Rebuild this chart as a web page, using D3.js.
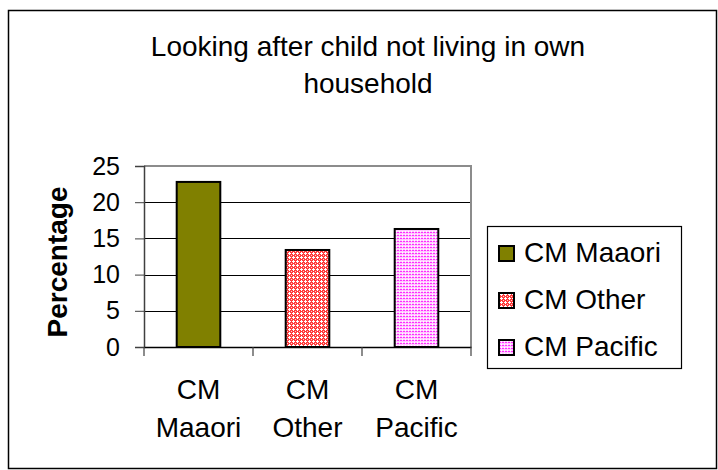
<!DOCTYPE html>
<html>
<head>
<meta charset="utf-8">
<script src="https://cdn.jsdelivr.net/npm/d3@7/dist/d3.min.js"></script>
<style>
  html, body { margin: 0; padding: 0; background: #fff; }
  svg { display: block; font-family: "Liberation Sans", Arial, sans-serif; }
</style>
</head>
<body>
<svg id="chart" width="718" height="470"></svg>
<script>
// Chart data
const categories = ["CM Maaori", "CM Other", "CM Pacific"];
const categoryLines = [["CM", "Maaori"], ["CM", "Other"], ["CM", "Pacific"]];
const percentages = [22.8, 13.4, 16.3];
const yTicks = [0, 5, 10, 15, 20, 25];
const titleLines = ["Looking after child not living in own", "household"];
const yAxisTitle = "Percentage";

const svg = d3.select("#chart");

// Fill patterns
const defs = svg.append("defs");

const checker = defs.append("pattern")
  .attr("id", "fill-other").attr("patternUnits", "userSpaceOnUse")
  .attr("width", 4).attr("height", 4);
checker.append("rect").attr("width", 4).attr("height", 4).attr("fill", "#ff3b3b");
checker.append("rect").attr("x", 1).attr("y", 0).attr("width", 1).attr("height", 3).attr("fill", "#ffffff");
checker.append("rect").attr("x", 0).attr("y", 1).attr("width", 3).attr("height", 1).attr("fill", "#ffffff");
checker.append("rect").attr("x", 3).attr("y", 3).attr("width", 1).attr("height", 1).attr("fill", "#ffd0d0");

const dots = defs.append("pattern")
  .attr("id", "fill-pacific").attr("patternUnits", "userSpaceOnUse")
  .attr("width", 3).attr("height", 3);
dots.append("rect").attr("width", 3).attr("height", 3).attr("fill", "#ffc8ff");
dots.append("rect").attr("x", 1).attr("y", 1).attr("width", 2).attr("height", 1).attr("fill", "#ff2cff");
dots.append("rect").attr("x", 0).attr("y", 0).attr("width", 1).attr("height", 1).attr("fill", "#ffffff");

const fills = ["#808000", "url(#fill-other)", "url(#fill-pacific)"];

// Outer chart frame
svg.append("rect")
  .attr("x", 8.5).attr("y", 10.5).attr("width", 708).attr("height", 458)
  .attr("fill", "#fff").attr("stroke", "#000").attr("stroke-width", 1.5);

// Title
const title = svg.append("text")
  .attr("text-anchor", "middle").attr("font-size", 28).attr("fill", "#000");
titleLines.forEach((t, i) => {
  title.append("tspan").attr("x", 368).attr("y", 56 + i * 37).text(t);
});

// Plot area
const plot = { left: 144, right: 471, top: 166, bottom: 347 };

const x = d3.scaleBand().domain(categories).range([plot.left, plot.right]).padding(0);
const y = d3.scaleLinear().domain([0, 25]).range([plot.bottom, plot.top]);

// Gridlines
svg.append("g")
  .selectAll("line").data(yTicks.filter(v => v > 0 && v < 25)).join("line")
  .attr("x1", plot.left).attr("x2", plot.right)
  .attr("y1", d => Math.round(y(d)) + 0.5).attr("y2", d => Math.round(y(d)) + 0.5)
  .attr("stroke", "#000").attr("stroke-width", 1);

// Plot area border (top and right)
svg.append("path")
  .attr("d", `M${plot.left},${plot.top} H${plot.right} V${plot.bottom}`)
  .attr("fill", "none").attr("stroke", "#8c8c8c").attr("stroke-width", 2);

// Bars
const barW = x.bandwidth() * 0.4;
svg.append("g")
  .selectAll("rect").data(categories).join("rect")
  .attr("x", d => x(d) + (x.bandwidth() - barW) / 2)
  .attr("width", barW)
  .attr("y", (d, i) => y(percentages[i]))
  .attr("height", (d, i) => y(0) - y(percentages[i]))
  .attr("fill", (d, i) => fills[i])
  .attr("stroke", "#000").attr("stroke-width", 2);

// Y axis
const yAxis = svg.append("g")
  .attr("transform", `translate(${plot.left},0)`)
  .call(d3.axisLeft(y).tickValues(yTicks).tickSize(9).tickPadding(15).tickFormat(d3.format("d")));
yAxis.select(".domain").attr("stroke", "#404040").attr("stroke-width", 1.5);
yAxis.selectAll(".tick line").attr("stroke", "#404040");
yAxis.selectAll(".tick text")
  .attr("font-size", 25).attr("fill", "#000").attr("font-family", "Liberation Sans, Arial, sans-serif");

// X axis with ticks at category boundaries
const xAxis = svg.append("g")
  .attr("transform", `translate(0,${plot.bottom})`)
  .call(d3.axisBottom(x).tickSize(0).tickFormat(""));
xAxis.select(".domain").attr("stroke", "#000").attr("stroke-width", 1.5);
const edges = categories.map(c => x(c)).concat([plot.right]);
xAxis.selectAll(".edge").data(edges).join("line")
  .attr("class", "edge")
  .attr("x1", d => d).attr("x2", d => d)
  .attr("y1", 0).attr("y2", 9)
  .attr("stroke", "#404040").attr("stroke-width", 1.2);

// Category labels on two lines
svg.append("g")
  .selectAll("text").data(categories).join("text")
  .attr("text-anchor", "middle").attr("font-size", 28).attr("fill", "#000")
  .each(function (d, i) {
    const t = d3.select(this);
    categoryLines[i].forEach((line, j) => {
      t.append("tspan")
        .attr("x", x(d) + x.bandwidth() / 2)
        .attr("y", 399 + j * 38)
        .text(line);
    });
  });

// Y axis title
svg.append("text")
  .attr("transform", "translate(67,262) rotate(-90)")
  .attr("text-anchor", "middle")
  .attr("font-size", 28).attr("font-weight", "bold").attr("fill", "#000")
  .text(yAxisTitle);

// Legend
const legend = svg.append("g");
legend.append("rect")
  .attr("x", 487.5).attr("y", 226.5).attr("width", 194).attr("height", 142)
  .attr("fill", "#fff").attr("stroke", "#000").attr("stroke-width", 1.2);
const items = legend.selectAll("g.item").data(categories).join("g")
  .attr("class", "item")
  .attr("transform", (d, i) => `translate(0,${262 + i * 47})`);
items.append("rect")
  .attr("x", 499).attr("y", -16).attr("width", 15).attr("height", 15)
  .attr("fill", (d, i) => fills[i])
  .attr("stroke", "#000").attr("stroke-width", 2);
items.append("text")
  .attr("x", 524).attr("y", 0)
  .attr("font-size", 28).attr("fill", "#000")
  .text(d => d);
</script>
</body>
</html>
